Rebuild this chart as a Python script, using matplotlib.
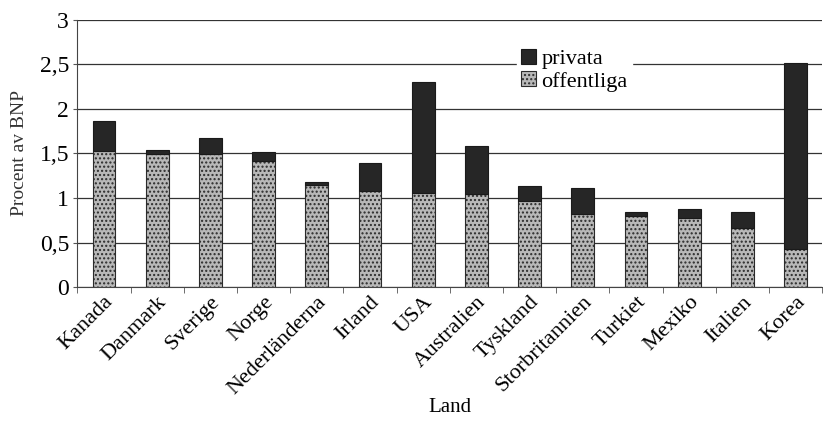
import matplotlib.pyplot as plt
import numpy as np

plt.rcParams['font.family'] = ['Liberation Serif', 'DejaVu Serif']
plt.rcParams['hatch.color'] = "#8c8c8c"

lander = ["Kanada", "Danmark", "Sverige", "Norge", "Nederländerna", "Irland", "USA",
          "Australien", "Tyskland", "Storbritannien", "Turkiet", "Mexiko", "Italien", "Korea"]
offentliga = [1.53, 1.49, 1.49, 1.42, 1.15, 1.08, 1.06, 1.05, 0.97, 0.82, 0.80, 0.77, 0.66, 0.43]
totalt = [1.86, 1.54, 1.67, 1.52, 1.18, 1.39, 2.30, 1.58, 1.14, 1.11, 0.84, 0.88, 0.84, 2.52]
privata = [t - o for t, o in zip(totalt, offentliga)]
yticks = [0, 0.5, 1, 1.5, 2, 2.5, 3]

fig = plt.figure(figsize=(8.23, 4.24), dpi=100)
ax = fig.add_axes([0.094, 0.323, 0.905, 0.63])

x = np.arange(len(lander))
ax.bar(x, offentliga, width=0.43, color="#b8b8b8", edgecolor="#2b2b2b",
       linewidth=0.8, hatch="....", label="offentliga", zorder=3)
ax.bar(x, privata, width=0.43, bottom=offentliga, color="#262626",
       edgecolor="#1a1a1a", linewidth=0.8, label="privata", zorder=3)

ax.set_xlim(-0.5, len(lander) - 0.5)
ax.set_ylim(0, 3)
ax.set_yticks(yticks)
ax.set_yticklabels([f"{v:g}".replace(".", ",") for v in yticks], fontsize=17)
ax.yaxis.grid(True, color="#333333", linewidth=0.9, zorder=0)
ax.set_axisbelow(True)

ax.set_xticks(x)
ax.set_xticklabels(lander, rotation=45, ha="right", rotation_mode="anchor", fontsize=16)
ax.tick_params(axis="x", length=0, pad=4)
ax.set_xticks(np.arange(len(lander) + 1) - 0.5, minor=True)
ax.tick_params(axis="x", which="minor", length=4, color="#555555")
ax.tick_params(axis="y", length=3, color="#555555", pad=3)

for side in ["top", "right"]:
    ax.spines[side].set_visible(False)
ax.spines["left"].set_color("#444444")
ax.spines["bottom"].set_color("#444444")

ax.set_ylabel("Procent av BNP", fontsize=14, color="#333333", labelpad=8)
ax.set_xlabel("Land", fontsize=15, labelpad=0)

handles, labels = ax.get_legend_handles_labels()
leg = ax.legend(handles[::-1], labels[::-1], loc="upper left", bbox_to_anchor=(0.575, 0.95),
                frameon=True, fontsize=16, handlelength=0.65, handleheight=0.65,
                handletextpad=0.25, labelspacing=0.1, borderpad=0.2)
leg.get_frame().set_edgecolor("white")
leg.get_frame().set_alpha(1)

fig.savefig("out.png", dpi=100)
